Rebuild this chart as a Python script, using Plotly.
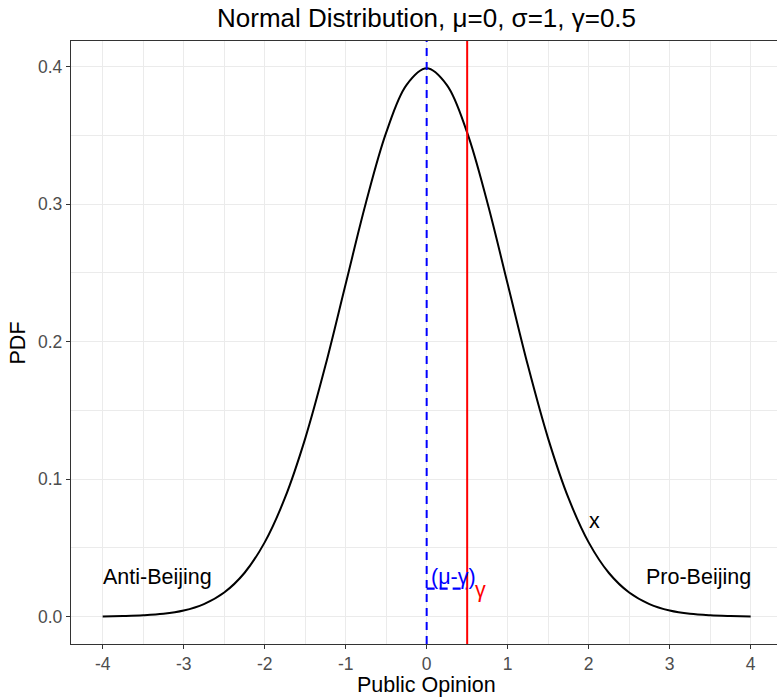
import plotly.graph_objects as go

# Distribution parameters
MU = 0.0
SIGMA = 1.0
GAMMA = 0.5

# Density values of the standard normal curve on a 0.25 grid
x_vals = [-4.0, -3.75, -3.5, -3.25, -3.0, -2.75, -2.5, -2.25, -2.0, -1.75, -1.5,
          -1.25, -1.0, -0.75, -0.5, -0.25, 0.0, 0.25, 0.5, 0.75, 1.0, 1.25, 1.5,
          1.75, 2.0, 2.25, 2.5, 2.75, 3.0, 3.25, 3.5, 3.75, 4.0]
pdf_vals = [0.0001, 0.0004, 0.0009, 0.0020, 0.0044, 0.0091, 0.0175, 0.0317,
            0.0540, 0.0863, 0.1295, 0.1826, 0.2420, 0.3011, 0.3521, 0.3867,
            0.3989, 0.3867, 0.3521, 0.3011, 0.2420, 0.1826, 0.1295, 0.0863,
            0.0540, 0.0317, 0.0175, 0.0091, 0.0044, 0.0020, 0.0009, 0.0004,
            0.0001]

# Gap segment height
SEG_Y = 0.0204

# Axis ticks
x_ticks = [-4, -3, -2, -1, 0, 1, 2, 3, 4]
x_ticktext = ["-4", "-3", "-2", "-1", "0", "1", "2", "3", "4"]
y_ticks = [0.0, 0.1, 0.2, 0.3, 0.4]
y_ticktext = ["0.0", "0.1", "0.2", "0.3", "0.4"]

FONT = "Liberation Sans, Arial, sans-serif"
GRID = "#EBEBEB"
BORDER = "#333333"
TXT = 21.5

fig = go.Figure()

fig.add_trace(go.Scatter(
    x=x_vals, y=pdf_vals, mode="lines",
    line=dict(color="black", width=2, shape="spline", smoothing=1.0),
    hoverinfo="skip", showlegend=False,
))

# Horizontal dashed gap between mu and gamma
fig.add_trace(go.Scatter(
    x=[MU, GAMMA], y=[SEG_Y, SEG_Y], mode="lines",
    line=dict(color="blue", width=2.2, dash="8px,5px"),
    hoverinfo="skip", showlegend=False,
))

fig.add_vline(x=MU, line=dict(color="blue", width=2, dash="8px,6px"))
fig.add_vline(x=GAMMA, line=dict(color="red", width=2))

ann_font = dict(family=FONT, size=TXT, color="black")
fig.add_annotation(x=-4.0, y=0.0285, text="Anti-Beijing", showarrow=False,
                   xanchor="left", yanchor="middle", xshift=-2, font=ann_font)
fig.add_annotation(x=4.0, y=0.0285, text="Pro-Beijing", showarrow=False,
                   xanchor="right", yanchor="middle", xshift=2, font=ann_font)
fig.add_annotation(x=2.07, y=0.0695, text="x", showarrow=False,
                   xanchor="center", yanchor="middle", font=ann_font)
fig.add_annotation(x=0.325, y=0.0285, text="(μ-γ)", showarrow=False,
                   xanchor="center", yanchor="middle",
                   font=dict(family=FONT, size=TXT, color="blue"))
fig.add_annotation(x=0.67, y=0.0195, text="γ", showarrow=False,
                   xanchor="center", yanchor="middle",
                   font=dict(family=FONT, size=TXT, color="red"))

# Titles
fig.add_annotation(xref="paper", yref="paper", x=0.5038, y=1.038,
                   text="Normal Distribution, μ=0, σ=1, γ=0.5", showarrow=False,
                   xanchor="center", yanchor="middle",
                   font=dict(family=FONT, size=26, color="black"))
fig.add_annotation(xref="paper", yref="paper", x=0.5038, y=-0.068,
                   text="Public Opinion", showarrow=False,
                   xanchor="center", yanchor="middle",
                   font=dict(family=FONT, size=TXT, color="black"))
fig.add_annotation(xref="paper", yref="paper", x=-0.0751, y=0.5,
                   text="PDF", showarrow=False, textangle=-90,
                   xanchor="center", yanchor="middle",
                   font=dict(family=FONT, size=TXT, color="black"))

tickfont = dict(family=FONT, size=17.5, color="#4D4D4D")

fig.update_xaxes(
    range=[-4.391, 4.325], tickvals=x_ticks, ticktext=x_ticktext,
    ticks="outside", ticklen=4, tickwidth=1.3, tickcolor=BORDER,
    tickfont=tickfont,
    showgrid=True, gridcolor=GRID, gridwidth=1.4,
    minor=dict(dtick=0.5, tick0=0, showgrid=True, gridcolor=GRID, gridwidth=0.8, ticklen=0),
    showline=True, linecolor=BORDER, linewidth=1.3, mirror=True,
    zeroline=False,
)
fig.update_yaxes(
    range=[-0.01995, 0.4188], tickvals=y_ticks, ticktext=y_ticktext,
    ticks="outside", ticklen=4, tickwidth=1.3, tickcolor=BORDER,
    tickfont=tickfont,
    showgrid=True, gridcolor=GRID, gridwidth=1.4,
    minor=dict(dtick=0.05, tick0=0, showgrid=True, gridcolor=GRID, gridwidth=0.8, ticklen=0),
    showline=True, linecolor=BORDER, linewidth=1.3, mirror=False,
    zeroline=False,
)

fig.update_layout(
    width=777, height=697,
    margin=dict(l=71, r=0, t=41, b=53),
    paper_bgcolor="white", plot_bgcolor="white",
    font=dict(family=FONT),
    showlegend=False,
)

fig.write_html("out.html")
